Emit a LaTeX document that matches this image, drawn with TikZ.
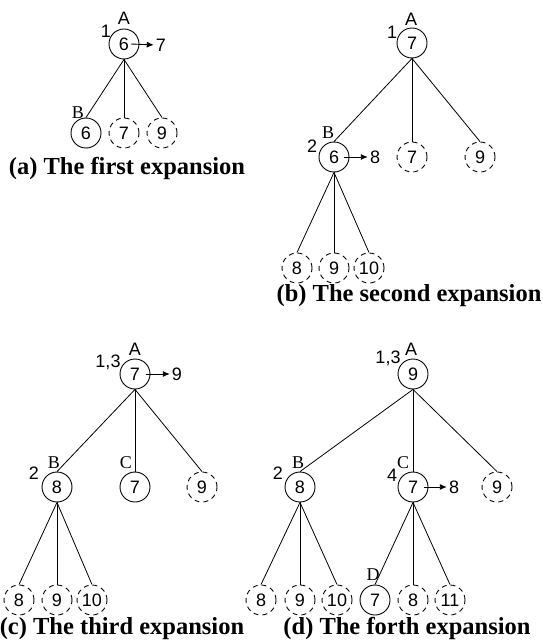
\documentclass[tikz,border=0pt]{standalone}
\usepackage{fontspec}
\setmainfont{Liberation Serif}
\setsansfont{Liberation Sans}
\usetikzlibrary{arrows.meta}
\begin{document}
\begin{tikzpicture}[x=1pt,y=-1pt,
  open/.style={circle,draw,line width=0.9pt,minimum size=30pt,inner sep=0pt,
    font=\sffamily\fontsize{18}{18}\selectfont},
  fringe/.style={open,dash pattern=on 5pt off 4pt},
  num/.style={font=\sffamily\fontsize{18}{18}\selectfont,inner sep=0pt},
  tag/.style={font=\rmfamily\fontsize{18}{18}\selectfont,inner sep=0pt},
  caption/.style={font=\rmfamily\bfseries\fontsize{24.5}{26}\selectfont,inner sep=0pt,anchor=base},
  link/.style={line width=0.8pt},
  upd/.style={-{Latex[length=7pt,width=6pt]},line width=0.9pt,shorten >=2pt}]
\useasboundingbox (0,0) rectangle (542,644);

% ---------- (a) first expansion ----------
\node[open] (aA) at (124,44) {6};
\node[num] (aAl) at (124,18) {A};
\node[num] (aAn) at (106,31) {1};
\node[num] (aAv) at (161,45) {7};
\draw[upd] ([xshift=7pt]aA.center) -- (aAv.west);
\node[open]   (aB) at (86,133) {6};
\node[tag]    (aBl) at (78,113) {B};
\node[fringe] (a7) at (124,133) {7};
\node[fringe] (a9) at (162,133) {9};
\draw[link] (aA.south) -- (aB.north);
\draw[link] (aA.south) -- (a7.north);
\draw[link] (aA.south) -- (a9.north);
\node[caption] (acap) at (127,175) {(a) The first expansion};

% ---------- (b) second expansion ----------
\node[open] (bA) at (412,43) {7};
\node[num] (bAl) at (411,19) {A};
\node[num] (bAn) at (392,32) {1};
\node[open] (bB) at (334,157) {6};
\node[tag]  (bBl) at (328,133) {B};
\node[num]  (bBn) at (312,146) {2};
\node[num]  (bBv) at (375,157) {8};
\draw[upd] ([xshift=10pt]bB.center) -- (bBv.west);
\node[fringe] (b7) at (412,157) {7};
\node[fringe] (b9) at (480,157) {9};
\draw[link] (bA.south) -- (bB.north);
\draw[link] (bA.south) -- (b7.north);
\draw[link] (bA.south) -- (b9.north);
\node[fringe] (bB8)  at (297,268) {8};
\node[fringe] (bB9)  at (334,268) {9};
\node[fringe] (bB10) at (369,268) {10};
\draw[link] (bB.south) -- (bB8.north);
\draw[link] (bB.south) -- (bB9.north);
\draw[link] (bB.south) -- (bB10.north);
\node[caption] (bcap) at (409,301) {(b) The second expansion};

% ---------- (c) third expansion ----------
\node[open] (cA) at (135,374) {7};
\node[num] (cAl) at (135,349) {A};
\node[num] (cAn) at (108,362) {1,3};
\node[num] (cAv) at (177,374) {9};
\draw[upd] ([xshift=11pt]cA.center) -- (cAv.west);
\node[open] (cB) at (57,487) {8};
\node[tag]  (cBl) at (54,463) {B};
\node[num]  (cBn) at (34,473) {2};
\node[open] (cC) at (135,487) {7};
\node[tag]  (cCl) at (126,463) {C};
\node[fringe] (c9) at (202,487) {9};
\draw[link] (cA.south) -- (cB.north);
\draw[link] (cA.south) -- (cC.north);
\draw[link] (cA.south) -- (c9.north);
\node[fringe] (cB8)  at (19,600) {8};
\node[fringe] (cB9)  at (57,600) {9};
\node[fringe] (cB10) at (92,600) {10};
\draw[link] (cB.south) -- (cB8.north);
\draw[link] (cB.south) -- (cB9.north);
\draw[link] (cB.south) -- (cB10.north);
\node[caption] (ccap) at (122,634) {(c) The third expansion};

% ---------- (d) fourth expansion ----------
\node[open] (dA) at (413,374) {9};
\node[num] (dAl) at (411,349) {A};
\node[num] (dAn) at (388,358) {1,3};
\node[open] (dB) at (300,487) {8};
\node[tag]  (dBl) at (298,463) {B};
\node[num]  (dBn) at (278,473) {2};
\node[open] (dC) at (413,487) {7};
\node[tag]  (dCl) at (403,463) {C};
\node[num]  (dCn) at (392,475) {4};
\node[num]  (dCv) at (454,487) {8};
\draw[upd] ([xshift=11pt]dC.center) -- (dCv.west);
\node[fringe] (d9) at (497,487) {9};
\draw[link] (dA.south) -- (dB.north);
\draw[link] (dA.south) -- (dC.north);
\draw[link] (dA.south) -- (d9.north);
\node[fringe] (dB8)  at (261,600) {8};
\node[fringe] (dB9)  at (300,600) {9};
\node[fringe] (dB10) at (337,600) {10};
\draw[link] (dB.south) -- (dB8.north);
\draw[link] (dB.south) -- (dB9.north);
\draw[link] (dB.south) -- (dB10.north);
\node[open]   (dD)   at (375,600) {7};
\node[tag]    (dDl)  at (373,575) {D};
\node[fringe] (dC8)  at (413,600) {8};
\node[fringe] (dC11) at (450,600) {11};
\draw[link] (dC.south) -- (dD.north);
\draw[link] (dC.south) -- (dC8.north);
\draw[link] (dC.south) -- (dC11.north);
\node[caption] (dcap) at (407,634) {(d) The forth expansion};
\end{tikzpicture}
\end{document}
